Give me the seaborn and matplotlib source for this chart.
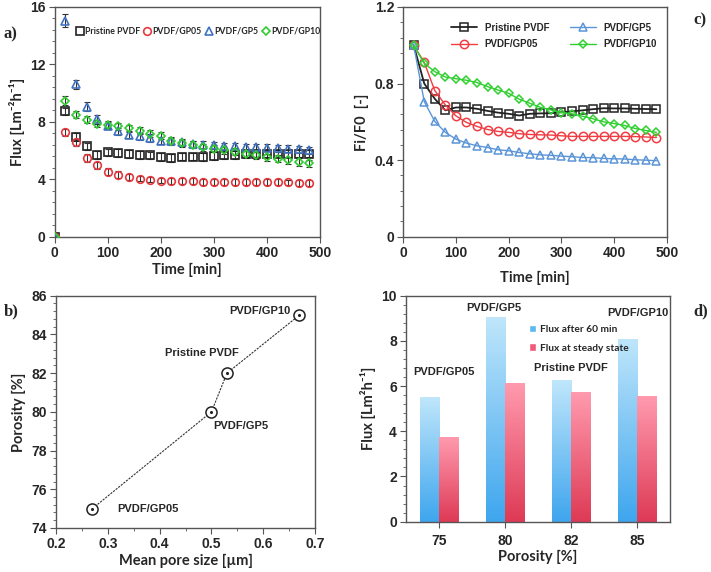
import numpy as np
import pandas as pd
import matplotlib
matplotlib.use('Agg')
import matplotlib.pyplot as plt
from matplotlib.ticker import MultipleLocator
from matplotlib.patches import Patch
import seaborn as sns

# ---- data ----
membranes = ['Pristine PVDF', 'PVDF/GP05', 'PVDF/GP5', 'PVDF/GP10']

time_a = [0, 20, 40, 60, 80, 100, 120, 140, 160, 180, 200, 220, 240, 260, 280,
          300, 320, 340, 360, 380, 400, 420, 440, 460, 480]
flux_pristine = [0, 8.72, 6.94, 6.29, 5.69, 5.87, 5.83, 5.76, 5.69, 5.66, 5.55, 5.48, 5.57,
                 5.57, 5.55, 5.62, 5.66, 5.69, 5.73, 5.78, 5.78, 5.78, 5.78, 5.78, 5.78]
flux_gp05 = [0, 7.28, 6.59, 5.48, 4.99, 4.53, 4.32, 4.14, 4.05, 3.98, 3.91, 3.88, 3.86,
             3.86, 3.82, 3.80, 3.80, 3.80, 3.80, 3.80, 3.80, 3.80, 3.78, 3.77, 3.75]
flux_gp5 = [0, 15.03, 10.61, 9.06, 8.18, 7.72, 7.33, 7.10, 6.98, 6.87, 6.70, 6.64, 6.57,
            6.45, 6.40, 6.36, 6.31, 6.29, 6.24, 6.22, 6.20, 6.17, 6.13, 6.08, 6.03]
flux_gp10 = [0, 9.48, 8.49, 8.14, 7.86, 7.79, 7.68, 7.54, 7.38, 7.17, 7.03, 6.70, 6.52,
             6.40, 6.22, 6.13, 6.01, 5.92, 5.78, 5.66, 5.53, 5.43, 5.32, 5.20, 5.11]
err_pristine = [0, 0.25, 0.25, 0.25, 0.25, 0.25, 0.25, 0.25, 0.25, 0.25, 0.25, 0.25, 0.25,
                0.25, 0.25, 0.25, 0.25, 0.25, 0.25, 0.25, 0.25, 0.25, 0.25, 0.25, 0.25]
err_gp05 = [0, 0.25, 0.25, 0.25, 0.25, 0.25, 0.25, 0.2, 0.2, 0.2, 0.2, 0.2, 0.2,
            0.2, 0.2, 0.2, 0.2, 0.2, 0.2, 0.2, 0.2, 0.2, 0.2, 0.2, 0.2]
err_gp5 = [0, 0.45, 0.3, 0.3, 0.3, 0.25, 0.25, 0.25, 0.25, 0.25, 0.25, 0.25, 0.25,
           0.25, 0.25, 0.25, 0.25, 0.25, 0.25, 0.25, 0.25, 0.25, 0.25, 0.25, 0.25]
err_gp10 = [0, 0.3, 0.25, 0.25, 0.25, 0.25, 0.25, 0.25, 0.25, 0.25, 0.25, 0.25, 0.25,
            0.25, 0.25, 0.25, 0.25, 0.25, 0.25, 0.25, 0.25, 0.25, 0.25, 0.25, 0.25]

time_c = time_a[1:]
ratio_pristine = [1.0, 0.80, 0.72, 0.66, 0.675, 0.675, 0.668, 0.657, 0.648, 0.642, 0.633, 0.642,
                  0.644, 0.645, 0.65, 0.655, 0.66, 0.666, 0.671, 0.670, 0.670, 0.668, 0.667, 0.666]
ratio_gp05 = [1.0, 0.91, 0.763, 0.688, 0.631, 0.597, 0.576, 0.56, 0.55, 0.545, 0.538, 0.534,
              0.532, 0.531, 0.527, 0.524, 0.524, 0.524, 0.524, 0.524, 0.524, 0.523, 0.521, 0.518]
ratio_gp5 = [1.0, 0.706, 0.602, 0.545, 0.51, 0.489, 0.475, 0.466, 0.454, 0.449, 0.44, 0.433,
             0.428, 0.425, 0.421, 0.418, 0.414, 0.413, 0.409, 0.407, 0.406, 0.402, 0.40, 0.397]
ratio_gp10 = [1.0, 0.905, 0.862, 0.834, 0.825, 0.817, 0.805, 0.784, 0.766, 0.749, 0.718, 0.697,
              0.676, 0.662, 0.648, 0.642, 0.629, 0.616, 0.60, 0.591, 0.581, 0.565, 0.555, 0.545]

pore_size = [0.27, 0.50, 0.53, 0.67]
porosity = [75, 80, 82, 85]
point_names = ['PVDF/GP05', 'PVDF/GP5', 'Pristine PVDF', 'PVDF/GP10']

porosity_cats = ['75', '80', '82', '85']
bar_names = ['PVDF/GP05', 'PVDF/GP5', 'Pristine PVDF', 'PVDF/GP10']
flux_60min = [5.5, 9.05, 6.25, 8.1]
flux_steady = [3.75, 6.15, 5.75, 5.55]

# ---- style ----
sns.set_style('ticks')
plt.rcParams['font.family'] = ['Liberation Sans', 'DejaVu Sans']
plt.rcParams['font.weight'] = 'bold'
plt.rcParams['axes.labelweight'] = 'bold'
plt.rcParams['xtick.direction'] = 'out'
plt.rcParams['ytick.direction'] = 'out'
plt.rcParams['xtick.labelsize'] = 10
plt.rcParams['ytick.labelsize'] = 10
plt.rcParams['xtick.major.pad'] = 2.5
plt.rcParams['ytick.major.pad'] = 2.5

label_font = {'family': ['Lato', 'DejaVu Sans'], 'weight': 'bold', 'size': 10.5}

colors = {'Pristine PVDF': '#222222', 'PVDF/GP05': '#e8383d',
          'PVDF/GP5': '#3f72c0', 'PVDF/GP10': '#2fcc2f'}
line_colors = {'Pristine PVDF': '#222222', 'PVDF/GP05': '#f03c42',
               'PVDF/GP5': '#5b95d8', 'PVDF/GP10': '#2fd02f'}
markers = {'Pristine PVDF': 's', 'PVDF/GP05': 'o', 'PVDF/GP5': '^', 'PVDF/GP10': 'D'}

fig = plt.figure(figsize=(7.11, 5.72), dpi=100)
ax_a = fig.add_axes([0.077, 0.586, 0.373, 0.402])
ax_c = fig.add_axes([0.567, 0.586, 0.371, 0.402])
ax_b = fig.add_axes([0.079, 0.077, 0.364, 0.406])
ax_d = fig.add_axes([0.571, 0.088, 0.371, 0.395])

# ---- a) flux vs time ----
df_a = pd.DataFrame({
    'Time': time_a * 4,
    'Flux': flux_pristine + flux_gp05 + flux_gp5 + flux_gp10,
    'Err': err_pristine + err_gp05 + err_gp5 + err_gp10,
    'Membrane': np.repeat(membranes, len(time_a)),
})
for m in membranes:
    sub = df_a[df_a['Membrane'] == m]
    ax_a.errorbar(sub['Time'], sub['Flux'], yerr=sub['Err'], fmt='none',
                  ecolor='#333333', elinewidth=0.8, capsize=2, capthick=0.8, zorder=2)
for m in membranes:
    sub = df_a[df_a['Membrane'] == m]
    ax_a.plot(sub['Time'], sub['Flux'], linestyle='none', marker=markers[m],
              markersize=5.5 if m != 'PVDF/GP10' else 4.5, markerfacecolor='none',
              markeredgecolor=colors[m], markeredgewidth=1.2, label=m, zorder=3)
ax_a.set_xlim(0, 500)
ax_a.set_ylim(0, 16)
ax_a.yaxis.set_major_locator(MultipleLocator(4))
ax_a.yaxis.set_minor_locator(MultipleLocator(0.8))
ax_a.xaxis.set_major_locator(MultipleLocator(100))
ax_a.set_xlabel('Time [min]', fontdict=label_font, labelpad=2)
ax_a.set_ylabel('Flux [Lm⁻²h⁻¹]', fontdict=label_font)
ax_a.legend(loc='center', bbox_to_anchor=(0.54, 0.893), ncol=4, frameon=False,
            handletextpad=0.1, columnspacing=0.35, handlelength=1.0,
            prop={'family': ['Lato', 'DejaVu Sans'], 'weight': 'bold', 'size': 6.3})

# ---- c) normalised flux ----
df_c = pd.DataFrame({
    'Time': time_c * 4,
    'Ratio': ratio_pristine + ratio_gp05 + ratio_gp5 + ratio_gp10,
    'Membrane': np.repeat(membranes, len(time_c)),
})
for m in membranes:
    sub = df_c[df_c['Membrane'] == m]
    sns.lineplot(data=sub, x='Time', y='Ratio', ax=ax_c, color=line_colors[m],
                 marker=markers[m], markersize=6 if m != 'PVDF/GP10' else 4.5,
                 markerfacecolor='none', markeredgecolor=line_colors[m],
                 markeredgewidth=1.1, linewidth=1.0 if m != 'Pristine PVDF' else 1.3,
                 label=m)
ax_c.set_xlim(0, 500)
ax_c.set_ylim(0, 1.2)
ax_c.yaxis.set_major_locator(MultipleLocator(0.4))
ax_c.yaxis.set_minor_locator(MultipleLocator(0.08))
ax_c.xaxis.set_major_locator(MultipleLocator(100))
ax_c.yaxis.set_major_formatter(matplotlib.ticker.FuncFormatter(lambda v, p: '%g' % round(v, 2)))
ax_c.set_xlabel('Time [min]', fontdict=label_font, labelpad=8)
ax_c.set_ylabel('Fi/F0  [-]', fontdict=label_font)
ax_c.legend(loc='upper left', bbox_to_anchor=(0.15, 0.97), ncol=2, frameon=False,
            handlelength=2.6, columnspacing=2.2, labelspacing=0.7,
            prop={'weight': 'bold', 'size': 7})

# ---- b) porosity vs pore size ----
df_b = pd.DataFrame({'Pore': pore_size, 'Porosity': porosity, 'Name': point_names})
sns.lineplot(data=df_b, x='Pore', y='Porosity', ax=ax_b, color='#333333',
             linestyle=(0, (2, 1)), linewidth=0.8, marker='o', markersize=8,
             markerfacecolor='white', markeredgecolor='#222222', markeredgewidth=1.1,
             sort=False)
ax_b.scatter(df_b['Pore'], df_b['Porosity'], s=1.5, color='#222222', zorder=4)
label_pos_b = {'PVDF/GP05': (0.377, 74.96), 'PVDF/GP5': (0.557, 79.25),
               'Pristine PVDF': (0.481, 83.06), 'PVDF/GP10': (0.594, 85.23)}
for name in point_names:
    x, y = label_pos_b[name]
    ax_b.text(x, y, name, ha='center', va='center', fontsize=8, fontweight='bold')
ax_b.set_xlim(0.2, 0.7)
ax_b.set_ylim(74, 86)
ax_b.yaxis.set_major_locator(MultipleLocator(2))
ax_b.yaxis.set_minor_locator(MultipleLocator(0.4))
ax_b.xaxis.set_major_locator(MultipleLocator(0.1))
ax_b.xaxis.set_minor_locator(MultipleLocator(0.05))
ax_b.set_xlabel('Mean pore size [µm]', fontdict=label_font, labelpad=2)
ax_b.set_ylabel('Porosity [%]', fontdict=label_font)

# ---- d) flux bars ----
df_d = pd.DataFrame({
    'Porosity': porosity_cats * 2,
    'Flux': flux_60min + flux_steady,
    'Stage': ['Flux after 60 min'] * 4 + ['Flux at steady state'] * 4,
})
sns.barplot(data=df_d, x='Porosity', y='Flux', hue='Stage', ax=ax_d, width=0.58,
            palette=['#6cc0f2', '#f06a84'], saturation=1, edgecolor='none')
# gradient fill inside each bar
grad_maps = [('#3fa6ee', '#bfe6fb'), ('#de3a55', '#ff9aae')]
for i, container in enumerate(ax_d.containers):
    cmap = matplotlib.colors.LinearSegmentedColormap.from_list('g', grad_maps[i])
    for patch in container:
        x0, y0 = patch.get_x(), patch.get_y()
        w, h = patch.get_width(), patch.get_height()
        im = ax_d.imshow(np.linspace(0, 1, 100).reshape(-1, 1), cmap=cmap,
                         extent=[x0, x0 + w, y0, y0 + h], origin='lower',
                         aspect='auto', zorder=2)
        im.set_clip_path(patch)
        patch.set_alpha(0)
ax_d.set_xlim(-0.5, 3.5)
ax_d.set_ylim(0, 10)
ax_d.yaxis.set_major_locator(MultipleLocator(2))
ax_d.yaxis.set_minor_locator(MultipleLocator(0.4))
ax_d.tick_params(axis='x', length=0, pad=5)
ax_d.set_xlabel('Porosity [%]', fontdict=label_font, labelpad=1)
ax_d.set_ylabel('Flux [Lm²h⁻¹]', fontdict=label_font)
label_pos_d = [(0.08, 6.61), (0.83, 9.46), (1.997, 6.78), (3.02, 9.25)]
for name, (x, y) in zip(bar_names, label_pos_d):
    ax_d.text(x, y, name, ha='center', va='center', fontsize=8, fontweight='bold')
handles = [Patch(facecolor='#5cb8f0'), Patch(facecolor='#f05c78')]
ax_d.legend(handles, ['Flux after 60 min', 'Flux at steady state'],
            loc='upper left', bbox_to_anchor=(0.43, 0.91), frameon=False,
            handlelength=0.7, handleheight=0.7, handletextpad=0.4, labelspacing=0.9,
            prop={'family': ['Lato', 'DejaVu Sans'], 'weight': 'bold', 'size': 7.3})

for ax in [ax_a, ax_c, ax_b, ax_d]:
    for s in ax.spines.values():
        s.set_visible(True)
        s.set_color('#555555')
        s.set_linewidth(1.0)
    ax.tick_params(which='both', top=False, right=False, color='#555555')
    ax.tick_params(which='major', length=4)
    ax.tick_params(which='minor', length=2.5)

# panel labels
for lbl, (x, y) in {'a)': (0.005, 0.94), 'c)': (0.975, 0.965),
                    'b)': (0.005, 0.455), 'd)': (0.975, 0.455)}.items():
    fig.text(x, y, lbl, fontsize=12, fontweight='bold', family='Liberation Serif',
             va='center', ha='left')

fig.savefig('out.png', dpi=100)
